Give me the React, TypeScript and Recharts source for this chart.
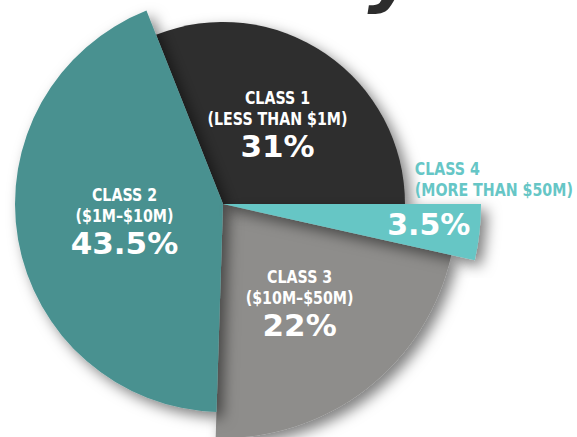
import { PieChart, Pie, Cell } from "recharts";

// data
const classNames = ["CLASS 1", "CLASS 2", "CLASS 3", "CLASS 4"];
const classRanges = ["(LESS THAN $1M)", "($1M–$10M)", "($10M–$50M)", "(MORE THAN $50M)"];
const shares = [31, 43.5, 22, 3.5];

const data = classNames.map((name, i) => ({ name, range: classRanges[i], value: shares[i] }));

// per-slice styling (the slices have stepped radii)
const COLORS = ["#2e2e2e", "#4a9190", "#8e8d8b", "#66c6c5"];
const RADII = [182, 208, 234, 258];
const LABEL_DIST = [97, 100, 125, 207];
const DRAW_ORDER = [2, 0, 1, 3];

const RAD = Math.PI / 180;
const BIG = '"DejaVu Sans", "Lato", sans-serif';
// no narrow font installed, so squeeze DejaVu Sans Bold horizontally
const SQUEEZE = 0.79;

const Narrow = ({ x, y, fill, anchor = "middle", children }: any) => (
  <text
    transform={`translate(${x} ${y}) scale(${SQUEEZE} 1)`}
    x={0}
    y={0}
    fill={fill}
    textAnchor={anchor}
    fontFamily={BIG}
    fontWeight="bold"
    fontSize={18}
  >
    {children}
  </text>
);

const renderLabel = (props: any) => {
  const { cx, cy, midAngle, index } = props;
  const d = LABEL_DIST[index];
  const x = cx + d * Math.cos(-midAngle * RAD);
  const y = cy + d * Math.sin(-midAngle * RAD);
  const item = data[index];

  if (index === 3) {
    return (
      <g>
        <Narrow x={x - 14} y={y - 52} fill="#66c6c6" anchor="start">
          {item.name}
        </Narrow>
        <Narrow x={x - 14} y={y - 31} fill="#66c6c6" anchor="start">
          {item.range}
        </Narrow>
        <text x={x} y={y + 8} fill="#fff" textAnchor="middle" fontFamily={BIG} fontWeight="bold" fontSize={30}>
          {item.value}%
        </text>
      </g>
    );
  }

  return (
    <g>
      <Narrow x={x} y={y - 20} fill="#fff">
        {item.name}
      </Narrow>
      <Narrow x={x} y={y + 1} fill="#fff">
        {item.range}
      </Narrow>
      <text x={x} y={y + 33} fill="#fff" textAnchor="middle" fontFamily={BIG} fontWeight="bold" fontSize={31}>
        {item.value}%
      </text>
    </g>
  );
};

export default function App() {
  return (
    <div
      style={{
        position: "absolute",
        left: 0,
        top: 0,
        width: 577,
        height: 437,
        background: "#fff",
        overflow: "hidden",
      }}
    >
      {/* title, mostly cropped off the top of the frame */}
      <svg width={577} height={437} style={{ position: "absolute", left: 0, top: 0 }}>
        <text
          x={316}
          y={-3}
          fill="#2d2d2d"
          fontFamily={BIG}
          fontWeight="bold"
          fontStyle="italic"
          fontSize={76}
          letterSpacing={-3}
        >
          by Class
        </text>
      </svg>
      <div style={{ position: "absolute", left: 0, top: 0 }}>
        <PieChart width={577} height={437} margin={{ top: 0, right: 0, bottom: 0, left: 0 }}>
          <defs>
            <filter id="sliceShadow" x="-30%" y="-30%" width="160%" height="160%">
              <feDropShadow dx={6} dy={6} stdDeviation={7} floodColor="#000" floodOpacity={0.5} />
            </filter>
          </defs>
          {DRAW_ORDER.map((k) => (
            <Pie
              key={k}
              data={data}
              dataKey="value"
              nameKey="name"
              cx={223}
              cy={204}
              startAngle={0}
              endAngle={360}
              innerRadius={0}
              outerRadius={RADII[k]}
              stroke="none"
              isAnimationActive={false}
              labelLine={false}
              label={k === 3 ? renderLabel : false}
            >
              {data.map((_, i) => (
                <Cell
                  key={i}
                  fill={i === k ? COLORS[i] : "none"}
                  filter={i === k ? "url(#sliceShadow)" : undefined}
                />
              ))}
            </Pie>
          ))}
        </PieChart>
      </div>
    </div>
  );
}
